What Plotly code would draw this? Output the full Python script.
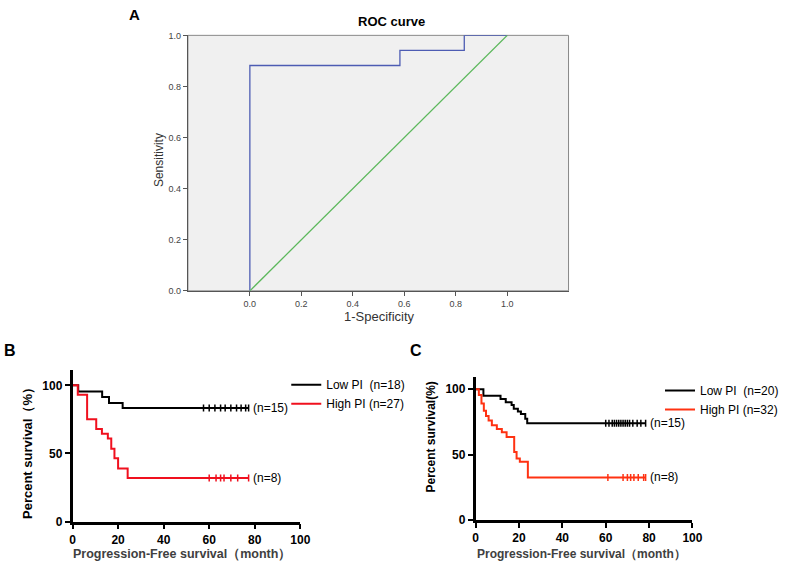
import plotly.graph_objects as go

W, H = 790, 569

# ---------------- data ----------------
# Panel A: ROC curve (step points)
roc_fpr = [0.0, 0.0, 0.583, 0.833, 1.0]
roc_tpr = [0.0, 0.882, 0.941, 1.0, 1.0]
ref_x = [0.0, 1.0]
ref_y = [0.0, 1.0]
roc_ticks = [0.0, 0.2, 0.4, 0.6, 0.8, 1.0]

# Panel B: Kaplan-Meier
b_low_t = [0, 2.5, 13, 16, 22, 77.3]
b_low_s = [100, 95.5, 91.5, 87, 83.3, 83.3]
b_low_cens_t = [57.5, 60, 62.5, 65, 67, 69.5, 72, 74, 76, 77.3]
b_low_cens_s = [83.3] * len(b_low_cens_t)

b_high_t = [0, 2.3, 6.4, 10.4, 12.9, 15.5, 17, 18.4, 20, 24.2, 77.3]
b_high_s = [100, 93, 75, 68, 64.5, 61, 53.5, 46.5, 39, 32, 32]
b_high_cens_t = [60, 63, 65, 66.5, 69.5, 72.5, 77.3]
b_high_cens_s = [32] * len(b_high_cens_t)

# Panel C: Kaplan-Meier
c_low_t = [0, 3.6, 11.5, 13.9, 16.6, 17.6, 19.5, 20.9, 22.9, 23.8, 78.4]
c_low_s = [100, 95, 92.5, 90, 88, 85, 83, 81, 77.5, 74, 74]
c_low_cens_t = [60, 61.5, 63, 64, 65, 66, 67, 68, 69, 70, 71, 72.5, 74.5, 76.2, 78.4]
c_low_cens_s = [74] * len(c_low_cens_t)

c_high_t = [0, 1.5, 2.7, 3.8, 4.8, 6, 7.5, 9.8, 12.1, 14.3, 17.8, 18.9, 20.4, 24.1, 78.4]
c_high_s = [100, 95.5, 89, 83.5, 79.5, 76, 72.5, 69.5, 67, 63.5, 52, 47, 44.5, 32.5, 32.5]
c_high_cens_t = [61, 68, 70, 71.5, 73, 75, 77.5, 78.4]
c_high_cens_s = [32.5] * len(c_high_cens_t)

km_xticks = [0, 20, 40, 60, 80, 100]
km_yticks = [0, 50, 100]

# ---------------- helpers (page pixels -> paper fractions) ----------------
def px_x(p):
    return p / W

def px_y(p):
    return 1 - p / H

FONT = "Arial, Liberation Sans, sans-serif"
BLUE = "#4d5cb3"
GREEN = "#5cb85c"
RED_B = "#f0101e"
RED_C = "#ff3212"

fig = go.Figure()

# ---- Panel A ----
fig.add_trace(go.Scatter(x=roc_fpr, y=roc_tpr, mode="lines", line=dict(color=BLUE, width=1.3, shape="hv"),
                         xaxis="x", yaxis="y", showlegend=False))
fig.add_trace(go.Scatter(x=ref_x, y=ref_y, mode="lines", line=dict(color=GREEN, width=1.3),
                         xaxis="x", yaxis="y", showlegend=False))

# ---- Panel B ----
cens_size = 5
fig.add_trace(go.Scatter(x=b_low_t, y=b_low_s, mode="lines", line=dict(color="black", width=2, shape="hv"),
                         xaxis="x2", yaxis="y2", name="Low PI  (n=18)", legend="legend"))
fig.add_trace(go.Scatter(x=b_low_cens_t, y=b_low_cens_s, mode="markers",
                         marker=dict(symbol="line-ns", size=cens_size, line=dict(color="black", width=1.5)),
                         xaxis="x2", yaxis="y2", showlegend=False))
fig.add_trace(go.Scatter(x=b_high_t, y=b_high_s, mode="lines", line=dict(color=RED_B, width=2, shape="hv"),
                         xaxis="x2", yaxis="y2", name="High PI (n=27)", legend="legend"))
fig.add_trace(go.Scatter(x=b_high_cens_t, y=b_high_cens_s, mode="markers",
                         marker=dict(symbol="line-ns", size=cens_size, line=dict(color=RED_B, width=1.5)),
                         xaxis="x2", yaxis="y2", showlegend=False))

# ---- Panel C ----
fig.add_trace(go.Scatter(x=c_low_t, y=c_low_s, mode="lines", line=dict(color="black", width=2, shape="hv"),
                         xaxis="x3", yaxis="y3", name="Low PI  (n=20)", legend="legend2"))
fig.add_trace(go.Scatter(x=c_low_cens_t, y=c_low_cens_s, mode="markers",
                         marker=dict(symbol="line-ns", size=cens_size, line=dict(color="black", width=1.5)),
                         xaxis="x3", yaxis="y3", showlegend=False))
fig.add_trace(go.Scatter(x=c_high_t, y=c_high_s, mode="lines", line=dict(color=RED_C, width=2, shape="hv"),
                         xaxis="x3", yaxis="y3", name="High PI (n=32)", legend="legend2"))
fig.add_trace(go.Scatter(x=c_high_cens_t, y=c_high_cens_s, mode="markers",
                         marker=dict(symbol="line-ns", size=cens_size, line=dict(color=RED_C, width=1.5)),
                         xaxis="x3", yaxis="y3", showlegend=False))

# ---------------- axes ----------------
# Panel A geometry (page pixels)
a_left, a_right, a_top, a_bot = 188, 575, 31, 292
a_x0, a_x1 = 251, 512.7  # pixel positions of 0.0 and 1.0
a_scale = a_x1 - a_x0
a_rng = [(a_left - a_x0) / a_scale, (a_right - a_x0) / a_scale]

roc_axis_common = dict(showgrid=False, zeroline=False, showline=True, linecolor="#555", linewidth=1,
                       ticks="outside", ticklen=4, tickcolor="#555", tickwidth=1,
                       tickfont=dict(family=FONT, size=9, color="#444"), tickformat=".1f")

layout = dict(
    width=W, height=H,
    margin=dict(l=0, r=0, t=0, b=0),
    paper_bgcolor="white", plot_bgcolor="white",
    xaxis=dict(domain=[px_x(a_left), px_x(a_right)], range=a_rng, anchor="y",
               tickvals=roc_ticks, **roc_axis_common),
    yaxis=dict(domain=[px_y(a_bot), px_y(a_top)], range=[0, 1], anchor="x",
               tickvals=roc_ticks, **roc_axis_common),
)

km_common = dict(showgrid=False, zeroline=False, showline=True, linecolor="black", linewidth=2.5,
                 ticks="outside", ticklen=5, tickwidth=2, tickcolor="black",
                 tickfont=dict(family=FONT, size=12, color="black", weight="bold"))

# Panel B geometry
b_x0, b_x100 = 70.7, 302.3
b_y0, b_y100 = 527.7, 388.5
b_top = 373
b_ymax = (b_y0 - b_top) / (b_y0 - b_y100) * 100
layout["xaxis2"] = dict(domain=[px_x(b_x0), px_x(b_x100)], range=[0, 100], anchor="y2",
                        tickvals=km_xticks, **km_common)
layout["yaxis2"] = dict(domain=[px_y(b_y0), px_y(b_top)], range=[0, b_ymax], anchor="x2",
                        tickvals=km_yticks, **km_common)

# Panel C geometry
c_x0, c_x100 = 480.5, 701
c_y0, c_y100 = 526, 392.5
c_top = 380
c_ymax = (c_y0 - c_top) / (c_y0 - c_y100) * 100
layout["xaxis3"] = dict(domain=[px_x(c_x0), px_x(c_x100)], range=[0, 100], anchor="y3",
                        tickvals=km_xticks, **km_common)
layout["yaxis3"] = dict(domain=[px_y(c_y0), px_y(c_top)], range=[0, c_ymax], anchor="x3",
                        tickvals=km_yticks, **km_common)

# legends
layout["legend"] = dict(x=px_x(288), y=px_y(373), xanchor="left", yanchor="top",
                        font=dict(family=FONT, size=12, color="black"),
                        bgcolor="rgba(0,0,0,0)", tracegroupgap=0, itemwidth=30)
layout["legend2"] = dict(x=px_x(668), y=px_y(379), xanchor="left", yanchor="top",
                         font=dict(family=FONT, size=12, color="black"),
                         bgcolor="rgba(0,0,0,0)", tracegroupgap=0, itemwidth=30)

fig.update_layout(**layout)

# gray plot background / frame for panel A
fig.add_shape(type="rect", xref="x domain", yref="y domain", x0=0, x1=1, y0=0, y1=1,
              fillcolor="#f0f0f0", line=dict(color="#888", width=1), layer="below")

# ---------------- text ----------------
ann = []
def txt(text, x, y, size, bold=False, color="black", angle=0, xanchor="center", yanchor="middle",
        xref="paper", yref="paper", family=FONT):
    ann.append(dict(text=text, x=x, y=y, xref=xref, yref=yref, showarrow=False,
                    xanchor=xanchor, yanchor=yanchor, textangle=angle,
                    font=dict(family=family, size=size, color=color, weight="bold" if bold else "normal")))

# Panel labels
txt("A", px_x(134), px_y(10), 15, bold=True)
txt("B", px_x(7), px_y(353), 16, bold=True)
txt("C", px_x(420), px_y(353), 16, bold=True)

# Panel A texts
txt("ROC curve", px_x(395), px_y(17), 13, bold=True)
txt("Sensitivity", px_x(158), px_y(158), 12, color="#333", angle=-90)
txt("1-Specificity", px_x(383), px_y(318), 13, color="#333")

# Panel B texts
txt("Percent survival（%）", px_x(25), px_y(455), 13, bold=True, angle=-90)
txt("Progression-Free survival（month）", px_x(182), px_y(561), 12.5, bold=True, color="#404040")
txt("(n=15)", b_low_t[-1] + 1, b_low_s[-1], 12, xanchor="left", xref="x2", yref="y2")
txt("(n=8)", b_high_t[-1] + 1, b_high_s[-1], 12, xanchor="left", xref="x2", yref="y2")

# Panel C texts
txt("Percent survival(%)", px_x(435), px_y(441), 12, bold=True, angle=-90)
txt("Progression-Free survival（month）", px_x(588), px_y(561), 12, bold=True, color="#404040")
txt("(n=15)", c_low_t[-1] + 1, c_low_s[-1], 12, xanchor="left", xref="x3", yref="y3")
txt("(n=8)", c_high_t[-1] + 1, c_high_s[-1], 12, xanchor="left", xref="x3", yref="y3")

fig.update_layout(annotations=ann)

# remove the browser's default 8px body margin so the figure sits at the page origin
fig.write_html("out.html",
               config={"displayModeBar": False},
               post_script="document.body.style.margin='0';document.documentElement.style.overflow='hidden';")
